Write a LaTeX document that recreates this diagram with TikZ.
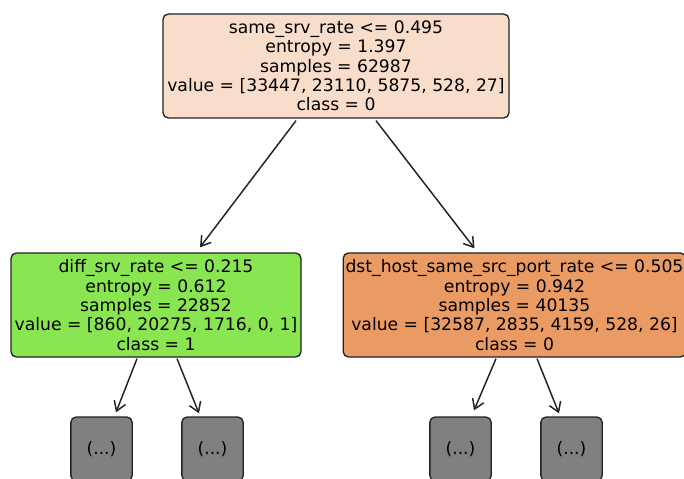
\documentclass[tikz,border=0pt]{standalone}
\usepackage{fontspec}
\setmainfont{DejaVu Sans}
\usepackage{xcolor}
\usetikzlibrary{arrows.meta,calc}

\definecolor{rootfill}{HTML}{F8DDCB}
\definecolor{leftfill}{HTML}{89E651}
\definecolor{rightfill}{HTML}{EA9B63}
\definecolor{cutfill}{HTML}{808080}
\definecolor{edgegray}{HTML}{222222}

\tikzset{
  split/.style={rectangle,rounded corners=4pt,draw=edgegray,line width=1pt,
    align=center,inner sep=0pt,font=\fontsize{12.9}{14.5}\selectfont},
  cut/.style={rectangle,rounded corners=4pt,draw=edgegray,line width=1pt,
    fill=cutfill,inner sep=0pt,minimum width=46pt,minimum height=48pt,
    font=\fontsize{12.9}{14.5}\selectfont},
  arr/.style={-{Straight Barb[length=7pt,width=9pt]},line width=1.1pt,draw=edgegray}
}

\begin{document}
\begin{tikzpicture}[x=0.75pt,y=-0.75pt]
\useasboundingbox (0,0) rectangle (684,478);
% split nodes
\node[split,fill=rootfill,minimum width=259.5pt,minimum height=78pt] (root) at (336,66)
  {same\_srv\_rate <= 0.495\\entropy = 1.397\\samples = 62987\\value = [33447, 23110, 5875, 528, 27]\\class = 0};
\node[split,fill=leftfill,minimum width=217.5pt,minimum height=78pt] (left) at (156,305)
  {diff\_srv\_rate <= 0.215\\entropy = 0.612\\samples = 22852\\value = [860, 20275, 1716, 0, 1]\\class = 1};
\node[split,fill=rightfill,minimum width=257pt,minimum height=78pt] (right) at (514.5,305)
  {dst\_host\_same\_src\_port\_rate <= 0.505\\entropy = 0.942\\samples = 40135\\value = [32587, 2835, 4159, 528, 26]\\class = 0};
% truncated subtrees
\node[cut] (ll) at (101.5,449) {(...)};
\node[cut] (lr) at (212.5,449) {(...)};
\node[cut] (rl) at (460.5,449) {(...)};
\node[cut] (rr) at (571.5,449) {(...)};

\draw[arr] ($(root.south)+(-40,2)$) -- ($(left.north)+(44,-5)$);
\draw[arr] ($(root.south)+(40,2)$) -- ($(right.north)+(-40,-4)$);
\draw[arr] ($(left.south)+(-19,1)$) -- ($(ll.north)+(14.5,-4)$);
\draw[arr] ($(left.south)+(21,1)$) -- ($(lr.north)+(-13.5,-3)$);
\draw[arr] ($(right.south)+(-18.5,1)$) -- ($(rl.north)+(13.5,-6)$);
\draw[arr] ($(right.south)+(22.5,1)$) -- ($(rr.north)+(-12.5,-3)$);

\end{tikzpicture}
\end{document}
